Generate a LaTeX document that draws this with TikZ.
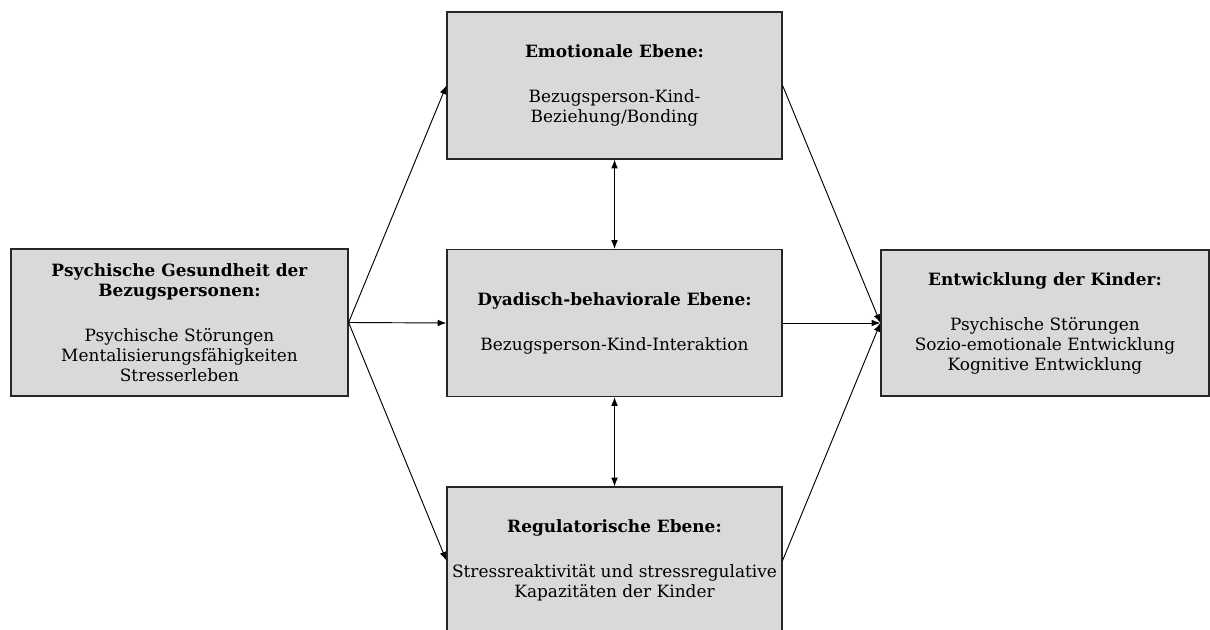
\documentclass[tikz,border=0pt]{standalone}
\usepackage{fontspec}
\setmainfont{DejaVu Serif}
\usetikzlibrary{arrows.meta}
\begin{document}
\begin{tikzpicture}[x=0.75pt,y=-0.75pt,
    >={Latex[length=6.5pt,width=5pt]},
    level/.style={draw=black!85,line width=0.9pt,fill=black!15,align=center,
      inner sep=0pt,minimum width=251.25pt,minimum height=110.25pt,
      font=\fontsize{12.7pt}{15pt}\selectfont}]
  \clip (0,0) rectangle (1210,630);
  \draw
    (179.5,322.5) node[level,minimum width=252.75pt] (eltern){\textbf{Psychische Gesundheit der}\\\textbf{Bezugspersonen:}\\[18.75pt]Psychische Störungen\\Mentalisierungsfähigkeiten\\Stresserleben}
    (614.5,85.5) node[level] (emo){\textbf{Emotionale Ebene:}\\[18.75pt]Bezugsperson-Kind-\\Beziehung/Bonding}
    (614.5,323) node[level] (dyad){\textbf{Dyadisch-behaviorale Ebene:}\\[18.75pt]Bezugsperson-Kind-Interaktion}
    (614.5,560.5) node[level] (reg){\textbf{Regulatorische Ebene:}\\[18.75pt]Stressreaktivität und stressregulative\\Kapazitäten der Kinder}
    (1045,323) node[level,minimum width=246pt,minimum height=109.5pt] (kind){\textbf{Entwicklung der Kinder:}\\[18.75pt]Psychische Störungen\\Sozio-emotionale Entwicklung\\Kognitive Entwicklung};
  \begin{scope}[->,line width=0.7pt]
    \draw (eltern.east) to (emo.west);
    \draw (eltern.east) to (dyad.west);
    \draw (eltern.east) to (reg.west);
    \draw (emo.east) to (kind.west);
    \draw (dyad.east) to (kind.west);
    \draw (reg.east) to (kind.west);
    \draw[<->] (emo.south) to (dyad.north);
    \draw[<->] (dyad.south) to (reg.north);
  \end{scope}
\end{tikzpicture}
\end{document}
